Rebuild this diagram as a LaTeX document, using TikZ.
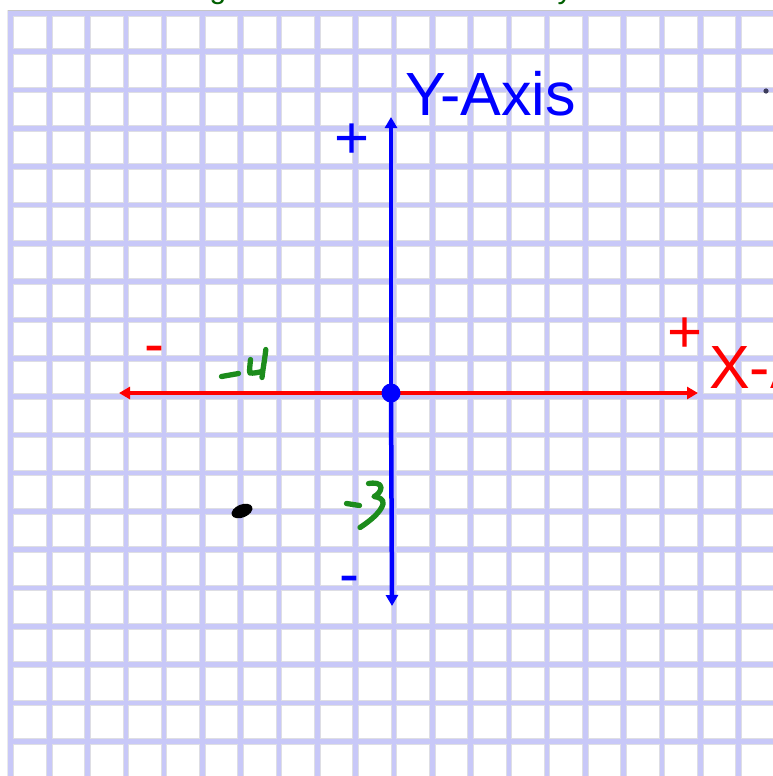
\documentclass[tikz,border=0pt]{standalone}
\usepackage{fontspec}
\setmainfont{Liberation Sans}
\usetikzlibrary{arrows.meta}
\definecolor{gridlav}{RGB}{200,200,248}
\definecolor{cellline}{RGB}{222,222,228}
\definecolor{handgreen}{RGB}{28,140,28}
\definecolor{topgreen}{RGB}{0,95,0}
\definecolor{dotgray}{RGB}{60,60,90}
\begin{document}
\begin{tikzpicture}[x=1pt,y=-1pt,
  xaxisline/.style={draw=red,line width=4.5pt,-{Triangle[length=11pt,width=12pt]}},
  yaxisline/.style={draw=blue,line width=4.5pt,-{Triangle[length=11pt,width=12pt]}},
  handline/.style={draw=handgreen,line width=5.3pt,line cap=round,line join=round},
  bigtxt/.style={inner sep=0pt,outer sep=0pt,font=\fontsize{61}{62}\selectfont},
  signtxt/.style={inner sep=0pt,outer sep=0pt,font=\fontsize{60}{62}\selectfont},
  toptxt/.style={inner sep=0pt,outer sep=0pt,text=topgreen,font=\fontsize{30}{32}\selectfont}
]
\useasboundingbox (0,0) rectangle (773,776);
\fill[white] (0,0) rectangle (773,776);
% paper with grid
\begin{scope}
\clip (7.5,10.3) rectangle (773,776);
\fill[gridlav,draw=gray!45,line width=0.8pt] (7.5,10.3) rectangle (773,776);
\foreach \i in {0,...,19}{
  \foreach \j in {0,...,19}{
    \fill[white,draw=cellline,line width=0.6pt]
      ({10.7+38.3*\i+2.8},{13.3+38.3*\j+2.8}) rectangle ({10.7+38.3*(\i+1)-2.8},{13.3+38.3*(\j+1)-2.8});
  }
}
\end{scope}
% cut-off text at the top
\node[toptxt,anchor=base] (topg) at (218,-1) {g};
\node[toptxt,anchor=base] (topy) at (565,-1) {y};
% axes
\coordinate (o) at (391,393);
\coordinate (xl) at (119,393);
\coordinate (xr) at (698,393);
\coordinate (yt) at (391,117);
\coordinate (yb) at (392,606);
\draw[xaxisline] (o) -- (xl);
\draw[xaxisline] (o) -- (xr);
\draw[yaxisline] (o) -- (yt);
\draw[yaxisline] (o) -- (yb);
\node[circle,fill=blue,inner sep=0pt,minimum size=19pt] (O) at (o) {};
% labels
\node[bigtxt,text=blue,anchor=base west] (ylab) at (405,115.5) {Y-Axis};
\node[bigtxt,text=red,anchor=base west] (xlab) at (709,388.5) {X-Axis};
\node[signtxt,text=blue,anchor=base] (yplus) at (352,158) {+};
\node[signtxt,text=red,anchor=base] (xplus) at (685,352) {+};
\node[signtxt,text=blue,anchor=base] (yminus) at (349,594) {-};
\node[signtxt,text=red,anchor=base] (xminus) at (154.5,364) {-};
% handwritten -4
\draw[handline] (221.5,376.5) -- (238.5,373.5);
\draw[handline] (250.5,359.5) .. controls (250,366) and (249,371) .. (250,373) .. controls (253,373.5) and (258,372.5) .. (262,371.5);
\draw[handline] (265.8,349.5) .. controls (265,358) and (263,368) .. (262,377.5);
% handwritten -3
\draw[handline] (346.5,503.5) -- (359.5,505.5);
\draw[handline] (368.5,483.5) .. controls (374,482.5) and (381,483) .. (381,487.5)
   .. controls (381,491.5) and (377,495.5) .. (374,496.5)
   .. controls (379,497) and (384,499.5) .. (383,504)
   .. controls (381,512) and (370,521) .. (360,527.5);
% black blob
\fill[black,rotate around={22:(242,511)}] (242,511) ellipse [x radius=11pt,y radius=6.5pt];
% small dot top right
\fill[dotgray] (766,91) circle [radius=2.6pt];
\end{tikzpicture}
\end{document}
